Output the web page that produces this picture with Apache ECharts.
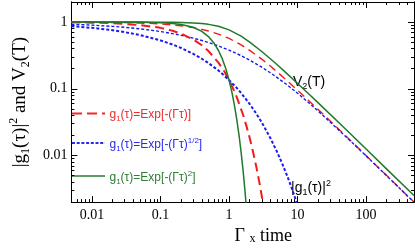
<!DOCTYPE html>
<html><head><meta charset="utf-8">
<script src="https://cdn.jsdelivr.net/npm/echarts@6/dist/echarts.min.js"></script>
<style>html,body{margin:0;padding:0;background:#fff}#c{width:415px;height:250px}</style>
</head><body><div id="c"></div>
<script>
// ---- data ----
const xTicks = [0.01, 0.1, 1, 10, 100];
const yTicks = [0.01, 0.1, 1];
const xLabels = ['0.01', '0.1', '1', '10', '100'];
const yLabels = ['0.01', '0.1', '1'];

// V2(T) curves
const tauV    = [0.005, 0.01, 0.02, 0.03, 0.05, 0.07, 0.1, 0.15, 0.2, 0.3, 0.4, 0.5, 0.7, 1, 1.5, 2, 3, 4, 5, 7, 10, 15, 20, 50, 100, 200, 500];
const v2Red   = [0.997, 0.993, 0.987, 0.980, 0.968, 0.955, 0.937, 0.907, 0.879, 0.827, 0.779, 0.736, 0.660, 0.568, 0.456, 0.377, 0.278, 0.219, 0.180, 0.133, 0.095, 0.0644, 0.0488, 0.0198, 0.00995, 0.00499, 0.00200];
const v2Blue  = [0.928, 0.900, 0.862, 0.834, 0.792, 0.759, 0.721, 0.671, 0.633, 0.574, 0.530, 0.494, 0.439, 0.380, 0.314, 0.269, 0.211, 0.174, 0.148, 0.115, 0.0856, 0.0601, 0.0463, 0.0194, 0.00985, 0.00496, 0.00199];
const v2Green = [1.0, 1.0, 1.0, 1.0, 0.999, 0.998, 0.997, 0.993, 0.987, 0.971, 0.950, 0.924, 0.864, 0.764, 0.614, 0.502, 0.362, 0.282, 0.231, 0.169, 0.120, 0.0813, 0.0614, 0.0249, 0.0125, 0.00625, 0.00251];

// |g1(tau)|^2 curves
const tauRed  = [0.005, 0.01, 0.02, 0.05, 0.1, 0.15, 0.2, 0.3, 0.4, 0.5, 0.7, 0.85, 1, 1.15, 1.3, 1.6, 1.8, 2, 2.25, 2.5, 2.75, 3, 3.2];
const g2Red   = [0.990, 0.980, 0.961, 0.905, 0.819, 0.741, 0.670, 0.549, 0.449, 0.368, 0.247, 0.183, 0.135, 0.100, 0.0743, 0.0408, 0.0273, 0.0183, 0.0111, 0.00674, 0.00409, 0.00248, 0.00166];
const tauBlue = [0.005, 0.01, 0.02, 0.03, 0.05, 0.1, 0.15, 0.2, 0.3, 0.4, 0.5, 0.7, 1, 1.25, 1.5, 2, 2.5, 3, 4, 5, 6, 7, 8, 9, 10];
const g2Blue  = [0.868, 0.819, 0.754, 0.707, 0.639, 0.531, 0.461, 0.409, 0.334, 0.282, 0.243, 0.188, 0.135, 0.107, 0.0863, 0.0591, 0.0423, 0.0313, 0.0183, 0.0114, 0.00745, 0.00503, 0.00349, 0.00248, 0.00178];
const tauGreen = [0.005, 0.05, 0.1, 0.15, 0.2, 0.3, 0.4, 0.5, 0.6, 0.7, 0.8, 0.9, 1, 1.1, 1.2, 1.3, 1.4, 1.5, 1.6, 1.7, 1.8];
const g2Green  = [1.0, 0.995, 0.980, 0.956, 0.923, 0.835, 0.726, 0.607, 0.487, 0.375, 0.278, 0.198, 0.135, 0.0889, 0.0561, 0.0340, 0.0198, 0.0111, 0.00598, 0.00309, 0.00153];

const legendNames = ['g1(τ)=Exp[-(Γτ)]', 'g1(τ)=Exp[-(Γτ)^1/2]', 'g1(τ)=Exp[-(Γτ)^2]'];

// ---- styling ----
const RED = '#ee1c1c', BLUE = '#1a1aee', GREEN = '#1f7a28';
const SERIF = 'Liberation Serif', SANS = 'Liberation Sans';
const X_MIN = 0.005, X_MAX = 500, Y_MIN = 0.002, Y_MAX = 2;

function minors(lo, hi) {
  const out = [];
  for (let d = -4; d <= 3; d++) for (let m = 2; m <= 9; m++) {
    const v = +(m * Math.pow(10, d)).toPrecision(3);
    if (v >= lo * 0.999 && v <= hi * 1.001) out.push(v);
  }
  return out;
}
const xMinor = minors(X_MIN, X_MAX), yMinor = minors(Y_MIN, Y_MAX);

function ax(kind, pos, ticks, len, labels) {
  const a = {
    type: 'log', logBase: 10,
    min: kind === 'x' ? X_MIN : Y_MIN, max: kind === 'x' ? X_MAX : Y_MAX,
    position: pos,
    axisLine: { show: true, onZero: false, lineStyle: { color: '#000', width: 1 } },
    axisTick: { show: true, inside: true, length: len, customValues: ticks, lineStyle: { color: '#000', width: 1 } },
    axisLabel: { show: false },
    splitLine: { show: false }, minorTick: { show: false }, minorSplitLine: { show: false }
  };
  if (labels) {
    const lbls = kind === 'x' ? xLabels : yLabels;
    a.axisLabel = {
      show: true, customValues: ticks, margin: kind === 'x' ? 6 : 4,
      fontFamily: SERIF, fontSize: 14, color: '#000',
      formatter: v => { const i = ticks.findIndex(t => Math.abs(Math.log10(t) - Math.log10(v)) < 1e-6); return i >= 0 ? lbls[i] : ''; }
    };
  }
  return a;
}

const xAxes = [ax('x', 'bottom', xTicks, 6, true), ax('x', 'bottom', xMinor, 3, false), ax('x', 'top', xTicks, 6, false), ax('x', 'top', xMinor, 3, false)];
const yAxes = [ax('y', 'left', yTicks, 6, true), ax('y', 'left', yMinor, 3, false), ax('y', 'right', yTicks, 6, false), ax('y', 'right', yMinor, 3, false)];

xAxes[0].name = 'Γ {x|x} time';
xAxes[0].nameLocation = 'middle';
xAxes[0].nameGap = 14;
xAxes[0].nameTextStyle = { fontFamily: SERIF, fontSize: 18, color: '#000', padding: [0, 0, 0, 41], rich: { x: { fontFamily: SERIF, fontSize: 12, color: '#000', verticalAlign: 'bottom', lineHeight: 14 } } };

yAxes[0].name = '|g{s|1}(τ)|{p|2} and V{s|2}(T)';
yAxes[0].nameLocation = 'middle';
yAxes[0].nameGap = 36;
yAxes[0].nameRotate = 90;
yAxes[0].nameTextStyle = {
  fontFamily: SERIF, fontSize: 19, color: '#000', lineHeight: 24,
  rich: { s: { fontFamily: SERIF, fontSize: 12, lineHeight: 12, verticalAlign: 'bottom', color: '#000' },
          p: { fontFamily: SERIF, fontSize: 12, lineHeight: 12, verticalAlign: 'top', color: '#000' } }
};

function pairs(xs, ys) { return xs.map((x, i) => [x, ys[i]]); }
function line(name, xs, ys, color, width, dash) {
  return { type: 'line', name, data: pairs(xs, ys), xAxisIndex: 0, yAxisIndex: 0,
    showSymbol: false, symbol: 'none', smooth: false, clip: true, silent: true,
    lineStyle: { color, width, type: dash || 'solid', cap: 'butt', join: 'round' }, z: 3 };
}

const series = [
  line(legendNames[0] + ' V2', tauV, v2Red, RED, 1.4, [8, 5]),
  line(legendNames[1] + ' V2', tauV, v2Blue, BLUE, 1.4, [3, 2]),
  line(legendNames[2] + ' V2', tauV, v2Green, GREEN, 1.5),
  line(legendNames[0], tauRed, g2Red, RED, 2, [9, 5]),
  line(legendNames[1], tauBlue, g2Blue, BLUE, 2, [3, 2]),
  line(legendNames[2], tauGreen, g2Green, GREEN, 1.5)
];

const legRich = (c) => ({
  s: { fontFamily: SANS, fontSize: 8, lineHeight: 8, verticalAlign: 'bottom', fill: c },
  p: { fontFamily: SANS, fontSize: 8, lineHeight: 8, verticalAlign: 'top', fill: c }
});
function legendItem(y, color, dash, text, width) {
  return [
    { type: 'line', shape: { x1: 72, y1: y, x2: 105, y2: y }, style: { stroke: color, lineWidth: width, lineDash: dash }, silent: true },
    { type: 'text', x: 109.5, y: y + 1.5, style: { text, font: '12px ' + SANS, fill: color, lineHeight: 16, verticalAlign: 'middle', rich: legRich(color) }, silent: true }
  ];
}

const graphic = [].concat(
  legendItem(113.5, '#ee2b2b', [10, 5], 'g{s|1}(τ)=Exp[-(Γτ)]', 2),
  legendItem(143, '#2b2bee', [3, 1.7], 'g{s|1}(τ)=Exp[-(Γτ){p|1/2}]', 2),
  legendItem(176, '#2e7d34', null, 'g{s|1}(τ)=Exp[-(Γτ){p|2}]', 1.5),
  [
    { type: 'text', x: 293, y: 82, style: { text: 'V{s|2}(T)', font: '14px ' + SANS, fill: '#000', lineHeight: 18, verticalAlign: 'middle',
      rich: { s: { fontFamily: SANS, fontSize: 9, lineHeight: 9, verticalAlign: 'bottom', fill: '#000' } } }, silent: true },
    { type: 'text', x: 291, y: 188, style: { text: '|g{s|1}(τ)|{p|2}', font: '14px ' + SANS, fill: '#000', lineHeight: 18, verticalAlign: 'middle',
      rich: { s: { fontFamily: SANS, fontSize: 9, lineHeight: 9, verticalAlign: 'bottom', fill: '#000' },
              p: { fontFamily: SANS, fontSize: 9, lineHeight: 9, verticalAlign: 'top', fill: '#000' } } }, silent: true }
  ]
);

const chart = echarts.init(document.getElementById('c'), null, { renderer: 'canvas' });
chart.setOption({
  animation: false,
  backgroundColor: '#fff',
  grid: { left: 57, right: 1, top: 2, bottom: 36, containLabel: false },
  xAxis: xAxes,
  yAxis: yAxes,
  series,
  graphic
});
</script></body></html>
